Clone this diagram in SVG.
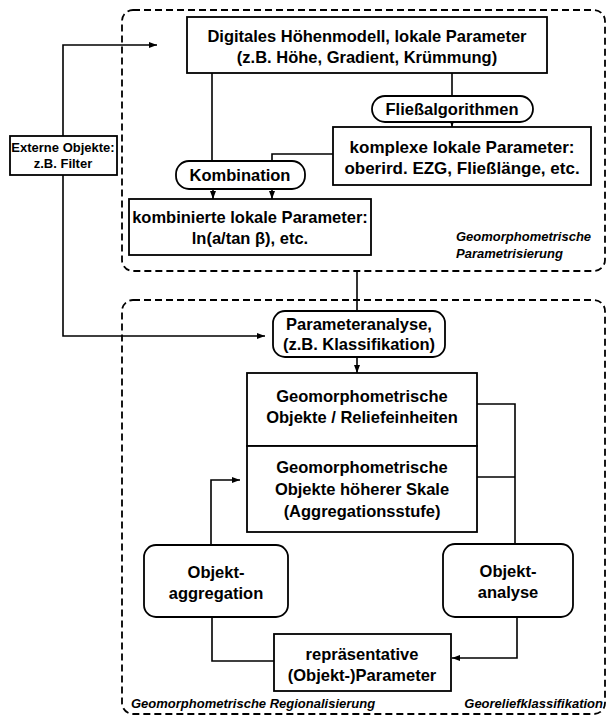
<svg xmlns="http://www.w3.org/2000/svg" width="608" height="717" viewBox="0 0 608 717">
<style>
.bg{fill:#fff}
.box{fill:#fff;stroke:#000;stroke-width:1.8}
.frame{fill:none;stroke:#000;stroke-width:1.8;stroke-dasharray:7 4}
.ln{fill:none;stroke:#000;stroke-width:1.6}
text{font-family:"Liberation Sans",Arial,sans-serif;font-weight:bold;fill:#000;text-anchor:middle}
.t{font-size:16.5px}
.tb{font-size:17px}
.ts{font-size:13px}
.it{font-size:13px;font-style:italic;text-anchor:start}
.ite{font-size:13px;font-style:italic;text-anchor:end}
</style>
<defs>
<marker id="ah" markerWidth="8" markerHeight="6" refX="8" refY="3" orient="auto" markerUnits="userSpaceOnUse">
<path d="M0,0 L8,3 L0,6 z" fill="#000"/>
</marker>
</defs>
<rect class="bg" x="0" y="0" width="608" height="717"/>

<g id="frame-parametrisierung">
<rect class="frame" x="122" y="10" width="483" height="261" rx="11"/>
<text class="it" x="456" y="241">Geomorphometrische</text>
<text class="it" x="456" y="258">Parametrisierung</text>
</g>
<g id="frame-regionalisierung">
<rect class="frame" x="122" y="300" width="483" height="414" rx="11"/>
<text class="it" x="131" y="708">Geomorphometrische Regionalisierung</text>
<text class="ite" x="603" y="708">Georeliefklassifikation</text>
</g>

<g id="connectors">
<polyline class="ln" points="63,136 63,45 157,45" marker-end="url(#ah)"/>
<polyline class="ln" points="63,175 63,336 265,336" marker-end="url(#ah)"/>
<line class="ln" x1="452" y1="73" x2="452" y2="96"/>
<line class="ln" x1="452" y1="122" x2="452" y2="127" marker-end="url(#ah)"/>
<line class="ln" x1="212" y1="73" x2="212" y2="161"/>
<polyline class="ln" points="333,154 272,154 272,161"/>
<line class="ln" x1="213" y1="189" x2="213" y2="199" marker-end="url(#ah)"/>
<line class="ln" x1="272" y1="189" x2="272" y2="199" marker-end="url(#ah)"/>
<line class="ln" x1="357" y1="271" x2="357" y2="311"/>
<line class="ln" x1="357" y1="357" x2="357" y2="373" marker-end="url(#ah)"/>
<polyline class="ln" points="477,404 515,404 515,544"/>
<line class="ln" x1="477" y1="477" x2="515" y2="477"/>
<polyline class="ln" points="211,545 211,480 240,480" marker-end="url(#ah)"/>
<polyline class="ln" points="212,617 212,661 274,661"/>
<polyline class="ln" points="517,617 517,658 452,658" marker-end="url(#ah)"/>
</g>

<g id="externe-objekte">
<rect class="box" x="10" y="136" width="107" height="39"/>
<text class="ts" x="63" y="152">Externe Objekte:</text>
<text class="ts" x="63" y="168">z.B. Filter</text>
</g>

<g id="dhm">
<rect class="box" x="187" y="17" width="360" height="56"/>
<text class="t" x="367" y="42">Digitales Höhenmodell, lokale Parameter</text>
<text class="t" x="367" y="63">(z.B. Höhe, Gradient, Krümmung)</text>
</g>

<g id="fliessalgorithmen">
<rect class="box" x="372" y="96" width="161" height="26" rx="13"/>
<text class="t" x="452" y="115">Fließalgorithmen</text>
</g>

<g id="komplexe-parameter">
<rect class="box" x="333" y="127" width="258" height="58"/>
<text class="tb" x="462" y="153">komplexe lokale Parameter:</text>
<text class="tb" x="462" y="174">oberird. EZG, Fließlänge, etc.</text>
</g>

<g id="kombination">
<rect class="box" x="176" y="161" width="129" height="28" rx="13"/>
<text class="t" x="240" y="181">Kombination</text>
</g>

<g id="kombinierte-parameter">
<rect class="box" x="129" y="199" width="242" height="56"/>
<text class="t" x="250" y="223">kombinierte lokale Parameter:</text>
<text class="t" x="250" y="244">ln(a/tan β), etc.</text>
</g>

<g id="parameteranalyse">
<rect class="box" x="273" y="311" width="172" height="46" rx="12"/>
<text class="t" x="359" y="330">Parameteranalyse,</text>
<text class="t" x="359" y="350">(z.B. Klassifikation)</text>
</g>

<g id="geo-objekte">
<rect class="box" x="247" y="373" width="230" height="73"/>
<text class="t" x="362" y="402">Geomorphometrische</text>
<text class="t" x="362" y="423">Objekte / Reliefeinheiten</text>
</g>

<g id="geo-objekte-hoeher">
<rect class="box" x="247" y="446" width="230" height="86"/>
<text class="t" x="362" y="473">Geomorphometrische</text>
<text class="t" x="362" y="495">Objekte höherer Skale</text>
<text class="t" x="362" y="517">(Aggregationsstufe)</text>
</g>

<g id="objekt-aggregation">
<rect class="box" x="144" y="545" width="144" height="72" rx="12"/>
<text class="t" x="216" y="578">Objekt-</text>
<text class="t" x="216" y="599">aggregation</text>
</g>

<g id="objekt-analyse">
<rect class="box" x="443" y="544" width="130" height="73" rx="12"/>
<text class="t" x="508" y="577">Objekt-</text>
<text class="t" x="508" y="598">analyse</text>
</g>

<g id="repraesentative-parameter">
<rect class="box" x="274" y="634" width="177" height="57"/>
<text class="t" x="362" y="660">repräsentative</text>
<text class="t" x="362" y="681">(Objekt-)Parameter</text>
</g>
</svg>
